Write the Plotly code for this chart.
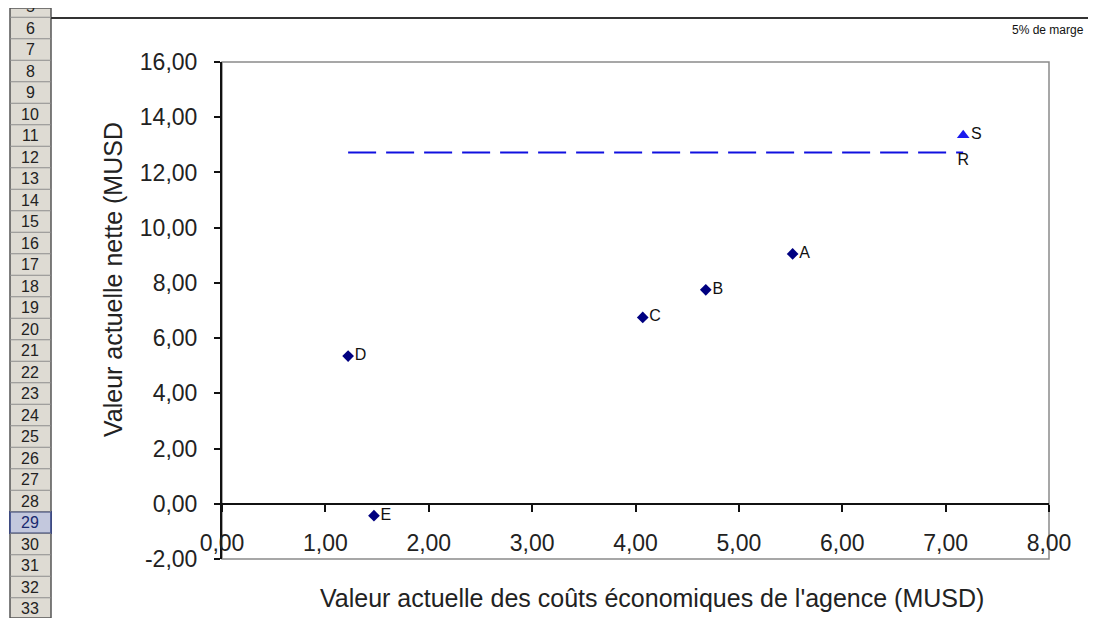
import plotly.graph_objects as go

# projects: x = present value of agency costs, y = NPV (MUSD)
projects = ["A", "B", "C", "D", "E"]
cost_pv = [5.52, 4.68, 4.07, 1.22, 1.47]
npv = [9.05, 7.75, 6.75, 5.35, -0.43]

# S point and R reference line
s_label = ["S"]
s_x = [7.17]
s_y = [13.35]
r_x = [1.22, 7.17]
r_y = [12.72, 12.72]
r_text = ["", "R"]

x_ticks = [0, 1, 2, 3, 4, 5, 6, 7, 8]
x_tick_text = ["0,00", "1,00", "2,00", "3,00", "4,00", "5,00", "6,00", "7,00", "8,00"]
y_ticks = [-2, 0, 2, 4, 6, 8, 10, 12, 14, 16]
y_tick_text = ["-2,00", "0,00", "2,00", "4,00", "6,00", "8,00",
               "10,00", "12,00", "14,00", "16,00"]

# spreadsheet row numbers shown at the left of the screenshot
sheet_rows = list(range(5, 34))
selected_row = 29

# page has an 8px body margin, so work in page pixels and shift
OFF = 8
W, H = 1096 - OFF, 618 - OFF
L, R, T, B = 222 - OFF, 1049 - OFF, 62 - OFF, 559 - OFF


def px(xpix):
    return (xpix - OFF - L) / (R - L)


def py(ypix):
    return (B - (ypix - OFF)) / (B - T)


fig = go.Figure()

fig.add_trace(go.Scatter(
    x=r_x, y=r_y, mode="lines+text", text=r_text,
    textposition="bottom center",
    textfont=dict(size=16, color="#111111"),
    line=dict(color="#1010e0", width=2, dash="28px,10px"),
    hoverinfo="skip", showlegend=False,
))

fig.add_trace(go.Scatter(
    x=cost_pv, y=npv, mode="markers+text", text=projects,
    textposition="middle right",
    textfont=dict(size=16, color="#111111"),
    marker=dict(symbol="diamond", size=9, color="#000080"),
    showlegend=False,
))

fig.add_trace(go.Scatter(
    x=s_x, y=s_y, mode="markers+text", text=s_label,
    textposition="middle right",
    textfont=dict(size=16, color="#111111"),
    marker=dict(symbol="triangle-up", size=11, color="#1a1aee"),
    showlegend=False,
))

shapes = []
annotations = []

# plot area frame
shapes.append(dict(type="rect", xref="paper", yref="paper", x0=0, x1=1, y0=0, y1=1,
                   line=dict(color="#8a8a8a", width=1.5), layer="below"))

# chart object top border
shapes.append(dict(type="line", xref="paper", yref="paper",
                   x0=px(51), x1=px(1096), y0=py(18), y1=py(18),
                   line=dict(color="#333333", width=2)))

# row header column
row_h = 21.5
row6_c = 28
shapes.append(dict(type="rect", xref="paper", yref="paper",
                   x0=px(10), x1=px(51), y0=py(618), y1=py(OFF),
                   fillcolor="#dedbd3", line=dict(color="#555555", width=1.5), layer="below"))
for r in sheet_rows:
    c = row6_c + (r - 6) * row_h
    top = c - row_h / 2
    if r == selected_row:
        shapes.append(dict(type="rect", xref="paper", yref="paper",
                           x0=px(10), x1=px(51), y0=py(top + row_h), y1=py(top),
                           fillcolor="#c3c8dd", line=dict(color="#2a3a80", width=1.5)))
    if top > OFF:
        shapes.append(dict(type="line", xref="paper", yref="paper",
                           x0=px(10), x1=px(51), y0=py(top), y1=py(top),
                           line=dict(color="#8c8c8c", width=1)))
    annotations.append(dict(text=str(r), xref="paper", yref="paper",
                            x=px(30), y=py(c), showarrow=False,
                            xanchor="center", yanchor="middle",
                            font=dict(size=16, color="#1a2a70" if r == selected_row else "#222222",
                                      family="Liberation Sans, Arial, sans-serif")))

# axis titles
annotations.append(dict(text="Valeur actuelle nette (MUSD", xref="paper", yref="paper",
                        x=px(113), y=py(280), showarrow=False, textangle=-90,
                        xanchor="center", yanchor="middle",
                        font=dict(size=25, color="#222222")))
annotations.append(dict(text="Valeur actuelle des coûts économiques de l'agence (MUSD)",
                        xref="paper", yref="paper",
                        x=px(652), y=py(598), showarrow=False,
                        xanchor="center", yanchor="middle",
                        font=dict(size=25, color="#222222")))
annotations.append(dict(text="5% de marge", xref="paper", yref="paper",
                        x=px(1086), y=py(30), showarrow=False,
                        xanchor="right", yanchor="middle",
                        font=dict(size=12, color="#111111")))

fig.update_layout(
    width=W, height=H,
    margin=dict(l=L, r=W - R, t=T, b=H - B),
    paper_bgcolor="white", plot_bgcolor="white",
    font=dict(family="Liberation Sans, Arial, sans-serif", color="#222222"),
    shapes=shapes, annotations=annotations,
    showlegend=False,
)

fig.update_xaxes(
    range=[0, 8], tickvals=x_ticks, ticktext=x_tick_text,
    anchor="free", position=(0 - (-2)) / 18,
    showline=True, linecolor="#111111", linewidth=2,
    ticks="outside", ticklen=7, tickwidth=2, tickcolor="#111111",
    ticklabelstandoff=12,
    tickfont=dict(size=23, color="#222222"),
    showgrid=False, zeroline=False,
)
fig.update_yaxes(
    range=[-2, 16], tickvals=y_ticks, ticktext=y_tick_text,
    showline=True, linecolor="#111111", linewidth=2,
    ticks="outside", ticklen=6, tickwidth=2, tickcolor="#111111",
    ticklabelstandoff=12,
    tickfont=dict(size=23, color="#222222"),
    showgrid=False, zeroline=False,
)

fig.write_html("out.html")
